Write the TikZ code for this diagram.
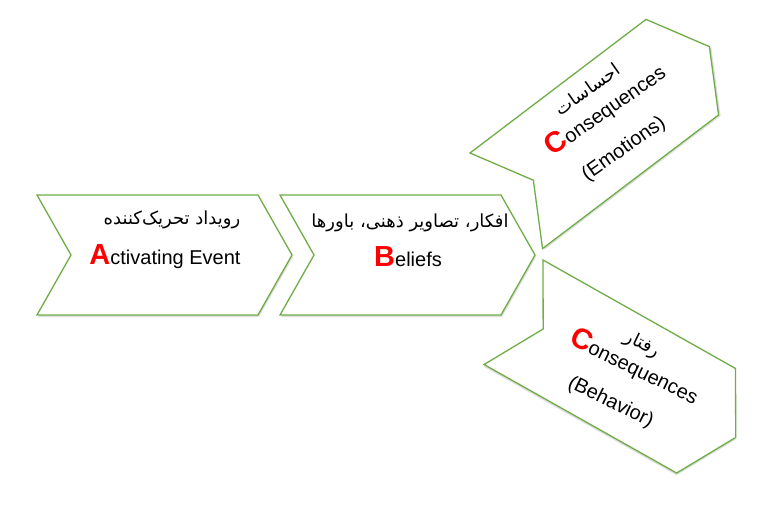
\documentclass[tikz,border=0pt]{standalone}
\usepackage{fontspec}
\setmainfont{Liberation Sans}
\newfontfamily\fafont[Script=Arabic]{DejaVu Sans}
\TeXXeTstate=1
\definecolor{chevgreen}{RGB}{112,173,71}
\definecolor{bigred}{RGB}{255,0,0}
\newcommand\capred[1]{{\fontsize{29}{30}\selectfont\bfseries\color{bigred}#1}}
\tikzset{
  chevline/.style={draw=chevgreen, line width=1.3pt, fill=white, line join=miter},
  chevshadow/.style={fill=black, opacity=0.13},
  entext/.style={font=\fontsize{20}{22}\selectfont, inner sep=0pt},
  fatext/.style={font=\fafont\fontsize{18}{20}\selectfont, inner sep=0pt},
  chev/.pic={
    \fill[chevshadow] (1,2) -- (222,2) -- (256,62) -- (222,122) -- (1,122) -- (35,62) -- cycle;
    \draw[chevline] (0,0) coordinate (-tl) -- (221,0) coordinate (-tr) -- (255,60) coordinate (-tip)
      -- (221,120) coordinate (-br) -- (0,120) coordinate (-bl) -- (34,60) coordinate (-notch) -- cycle;
  }
}
\begin{document}
\begin{tikzpicture}[x=1pt,y=-1pt]
\useasboundingbox (0,0) rectangle (763,505);
\fill[white] (0,0) rectangle (763,505);
% Activating event
\begin{scope}[shift={(37,195)}]
  \pic[transform shape] (s1) at (0,0) {chev};
  \node[fatext] (s1fa) at (135,25) {\beginR رویداد تحریک‌کننده\endR};
  \node[entext] (s1en) at (128,62) {\capred{A}ctivating Event};
\end{scope}
% Beliefs
\begin{scope}[shift={(280,195)}]
  \pic[transform shape] (s2) at (0,0) {chev};
  \node[fatext] (s2fa) at (130,28) {\beginR افکار، تصاویر ذهنی، باورها\endR};
  \node[entext] (s2en) at (128,62) {\capred{B}eliefs};
\end{scope}
% Emotions
\begin{scope}[shift={(470,153)}, rotate=37.2]
  \pic[transform shape] (s3) at (0,0) {chev};
  \node[fatext, rotate=35] (s3fa) at (132,20) {\beginR احساسات\endR};
  \node[entext, rotate=35] (s3en) at (134,47) {\capred{C}onsequences};
  \node[entext, rotate=35] (s3par) at (125,90) {(Emotions)};
\end{scope}
% Behavior
\begin{scope}[shift={(543,260)}, rotate=-29.4]
  \pic[transform shape] (s4) at (0,0) {chev};
  \node[fatext, rotate=-26] (s4fa) at (128,25) {\beginR رفتار\endR};
  \node[entext, rotate=-26] (s4en) at (132,48) {\capred{C}onsequences};
  \node[entext, rotate=-26] (s4par) at (129,91) {(Behavior)};
\end{scope}
\end{tikzpicture}
\end{document}
